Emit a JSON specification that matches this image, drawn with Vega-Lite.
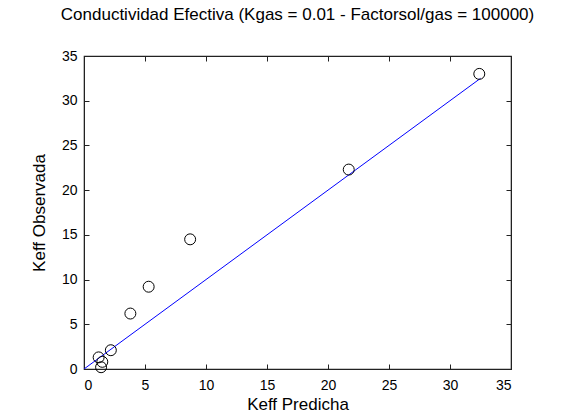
{
  "$schema": "https://vega.github.io/schema/vega-lite/v6.json",
  "width": 427,
  "height": 313,
  "autosize": {"type": "none"},
  "padding": {"left": 84, "top": 56, "right": 53, "bottom": 50},
  "background": "white",
  "title": {
    "text": "Conductividad Efectiva (Kgas = 0.01 - Factorsol/gas = 100000)",
    "font": "Liberation Sans",
    "fontSize": 17,
    "fontWeight": "normal",
    "color": "black",
    "anchor": "middle",
    "offset": 25
  },
  "config": {
    "view": {"stroke": "#222222", "strokeWidth": 1.2},
    "axis": {
      "grid": false,
      "domainColor": "#222222",
      "tickColor": "#222222",
      "tickSize": -5,
      "labelFont": "Liberation Sans",
      "labelFontSize": 14,
      "labelColor": "black",
      "titleFont": "Liberation Sans",
      "titleFontSize": 17,
      "titleFontWeight": "normal",
      "titleColor": "black"
    }
  },
  "datasets": {
    "puntos": [
      {"predicha": 32.4, "observada": 33.0},
      {"predicha": 21.7, "observada": 22.3},
      {"predicha": 8.7, "observada": 14.5},
      {"predicha": 5.3, "observada": 9.2},
      {"predicha": 3.8, "observada": 6.2},
      {"predicha": 2.2, "observada": 2.1},
      {"predicha": 1.2, "observada": 1.3},
      {"predicha": 1.5, "observada": 0.8},
      {"predicha": 1.4, "observada": 0.2}
    ],
    "identidad": [
      {"predicha": 0, "observada": 0},
      {"predicha": 32.5, "observada": 32.5}
    ]
  },
  "layer": [
    {
      "data": {"name": "identidad"},
      "mark": {"type": "line", "color": "#0000ff", "strokeWidth": 1, "clip": true},
      "encoding": {
        "x": {"field": "predicha", "type": "quantitative",
              "scale": {"domain": [0, 35], "nice": false, "zero": false},
              "axis": {"orient": "top", "labels": false, "title": null, "values": [0, 5, 10, 15, 20, 25, 30, 35]}},
        "y": {"field": "observada", "type": "quantitative",
              "scale": {"domain": [0, 35], "nice": false, "zero": false},
              "axis": {"orient": "right", "labels": false, "title": null, "values": [0, 5, 10, 15, 20, 25, 30, 35]}}
      }
    },
    {
      "data": {"name": "puntos"},
      "mark": {"type": "point", "shape": "circle", "size": 120, "stroke": "black", "strokeWidth": 1, "filled": false, "opacity": 1},
      "encoding": {
        "x": {"field": "predicha", "type": "quantitative",
              "scale": {"domain": [0, 35], "nice": false, "zero": false},
              "axis": {"orient": "bottom", "title": "Keff Predicha", "values": [0, 5, 10, 15, 20, 25, 30, 35], "labelPadding": 14, "titlePadding": 4}},
        "y": {"field": "observada", "type": "quantitative",
              "scale": {"domain": [0, 35], "nice": false, "zero": false},
              "axis": {"orient": "left", "title": "Keff Observada", "values": [0, 5, 10, 15, 20, 25, 30, 35], "labelPadding": 12, "titlePadding": 13}}
      }
    }
  ],
  "resolve": {"axis": {"x": "independent", "y": "independent"}}
}
